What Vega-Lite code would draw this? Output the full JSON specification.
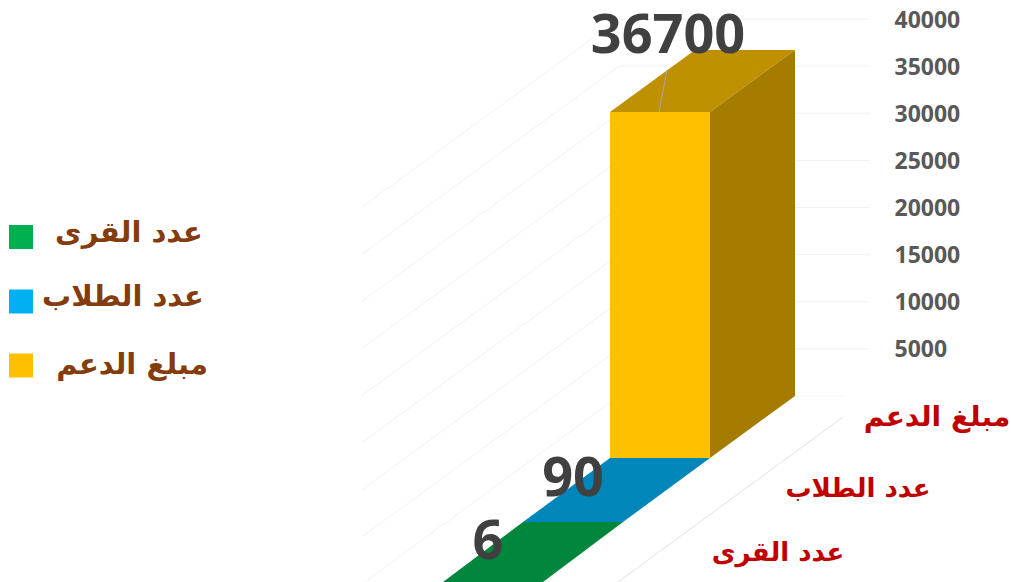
{"$schema":"https://vega.github.io/schema/vega-lite/v6.json","width":1011,"height":582,"padding":0,"autosize":"none","background":"white","config":{"view":{"stroke":null}},
"resolve":{"scale":{"color":"independent"}},
"datasets":{
"grid":[
{"level":"40000","x":362,"y":20053},{"level":"40000","x":619,"y":40000},{"level":"40000","x":870,"y":40000},
{"level":"35000","x":362,"y":15053},{"level":"35000","x":619,"y":35000},{"level":"35000","x":870,"y":35000},
{"level":"30000","x":362,"y":10053},{"level":"30000","x":619,"y":30000},{"level":"30000","x":870,"y":30000},
{"level":"25000","x":362,"y":5053},{"level":"25000","x":619,"y":25000},{"level":"25000","x":870,"y":25000},
{"level":"20000","x":362,"y":53},{"level":"20000","x":619,"y":20000},{"level":"20000","x":870,"y":20000},
{"level":"15000","x":362,"y":-4947},{"level":"15000","x":619,"y":15000},{"level":"15000","x":870,"y":15000},
{"level":"10000","x":362,"y":-9947},{"level":"10000","x":619,"y":10000},{"level":"10000","x":870,"y":10000},
{"level":"5000","x":362,"y":-14947},{"level":"5000","x":619,"y":5000},{"level":"5000","x":870,"y":5000},
{"level":"0","x":362,"y":-19947},{"level":"0","x":619,"y":0},{"level":"0","x":843,"y":0}],
"floor":[{"x":843,"y":-2228},{"x":618,"y":-19735}],
"faces":[
{"face":"green","x":443,"y":-19735,"y2":-19735},{"face":"green","x":523,"y":-13369,"y2":-19735},{"face":"green","x":543,"y":-13369,"y2":-19735},{"face":"green","x":623,"y":-13369,"y2":-13369},
{"face":"blue","x":523,"y":-13369,"y2":-13369},{"face":"blue","x":610,"y":-6578,"y2":-13369},{"face":"blue","x":623,"y":-6578,"y2":-13369},{"face":"blue","x":710,"y":-6578,"y2":-6578},
{"face":"front","x":610,"y":30132,"y2":-6578},{"face":"front","x":710,"y":30132,"y2":-6578},
{"face":"top","x":610,"y":30132,"y2":30132},{"face":"top","x":695,"y":36711,"y2":30132},{"face":"top","x":710,"y":36711,"y2":30132},{"face":"top","x":795,"y":36711,"y2":36711},
{"face":"side","x":710,"y":30132,"y2":-6578},{"face":"side","x":795,"y":36711,"y2":0}],
"leader":[{"x":659,"y":30132},{"x":667,"y":34600}],
"values":[{"label":"36700","x":668,"y":38120},{"label":"90","x":573,"y":-8950},{"label":"6","x":488,"y":-15650}],
"legend":[{"name":"عدد القرى","x":21,"y":16870,"tx":129,"ty":17294},{"name":"عدد الطلاب","x":21,"y":10026,"tx":123,"ty":10504},{"name":"مبلغ الدعم","x":21,"y":3236,"tx":132,"ty":3289}]
},
"encoding":{
"x":{"field":"x","type":"quantitative","scale":{"domain":[0,1011],"nice":false,"zero":false},"axis":null},
"y":{"field":"y","type":"quantitative","scale":{"domain":[-19735,42016],"nice":false,"zero":false},
"axis":{"orient":"right","offset":-117,"values":[5000,10000,15000,20000,25000,30000,35000,40000],"format":"d","title":null,"domain":false,"ticks":false,"grid":false,"labelPadding":0,"labelOffset":1,"labelFont":"Open Sans","labelFontWeight":"bold","labelFontSize":23,"labelColor":"#595959","labelFlush":false,"labelOverlap":false}}},
"layer":[
{"data":{"name":"grid"},"mark":{"type":"line","stroke":"#F2F2F2","strokeWidth":1,"clip":true},"encoding":{"detail":{"field":"level"},"order":{"field":"x"}}},
{"data":{"name":"floor"},"mark":{"type":"line","stroke":"#E3E3E3","strokeWidth":1,"clip":true}},
{"data":{"name":"faces"},"mark":{"type":"area","clip":true,"orient":"vertical"},"encoding":{"y2":{"field":"y2"},"color":{"field":"face","type":"nominal","legend":null,"scale":{"domain":["green","blue","front","top","side"],"range":["#00863D","#0086B8","#FFC000","#BF9000","#A67C00"]}}}},
{"data":{"name":"leader"},"mark":{"type":"line","stroke":"#A6A6A6","strokeWidth":1}},
{"data":{"name":"values"},"mark":{"type":"text","font":"Open Sans","fontWeight":"bold","fontSize":54,"color":"#404040","align":"center","baseline":"middle"},"encoding":{"text":{"field":"label"}}},
{"data":{"name":"legend"},"mark":{"type":"point","shape":"square","filled":true,"size":576,"opacity":1},"encoding":{"color":{"field":"name","type":"nominal","legend":null,"scale":{"domain":["عدد القرى","عدد الطلاب","مبلغ الدعم"],"range":["#00B050","#00B0F0","#FFC000"]}}}},
{"data":{"name":"legend"},"mark":{"type":"text","font":"DejaVu Sans","fontWeight":"bold","fontSize":29,"color":"#843C0C","align":"center","baseline":"middle"},"encoding":{"x":{"field":"tx","type":"quantitative"},"y":{"field":"ty","type":"quantitative"},"text":{"field":"name"}}},
{"data":{"values":[{"name":"مبلغ الدعم","x":937,"y":-2334}]},"mark":{"type":"text","font":"DejaVu Sans","fontWeight":"bold","fontSize":28,"color":"#C00000","align":"center","baseline":"middle"},"encoding":{"text":{"field":"name"}}},
{"data":{"values":[{"name":"عدد الطلاب","x":858,"y":-9867},{"name":"عدد القرى","x":778,"y":-16658}]},"mark":{"type":"text","font":"DejaVu Sans","fontWeight":"bold","fontSize":26,"color":"#C00000","align":"center","baseline":"middle"},"encoding":{"text":{"field":"name"}}}
]}
